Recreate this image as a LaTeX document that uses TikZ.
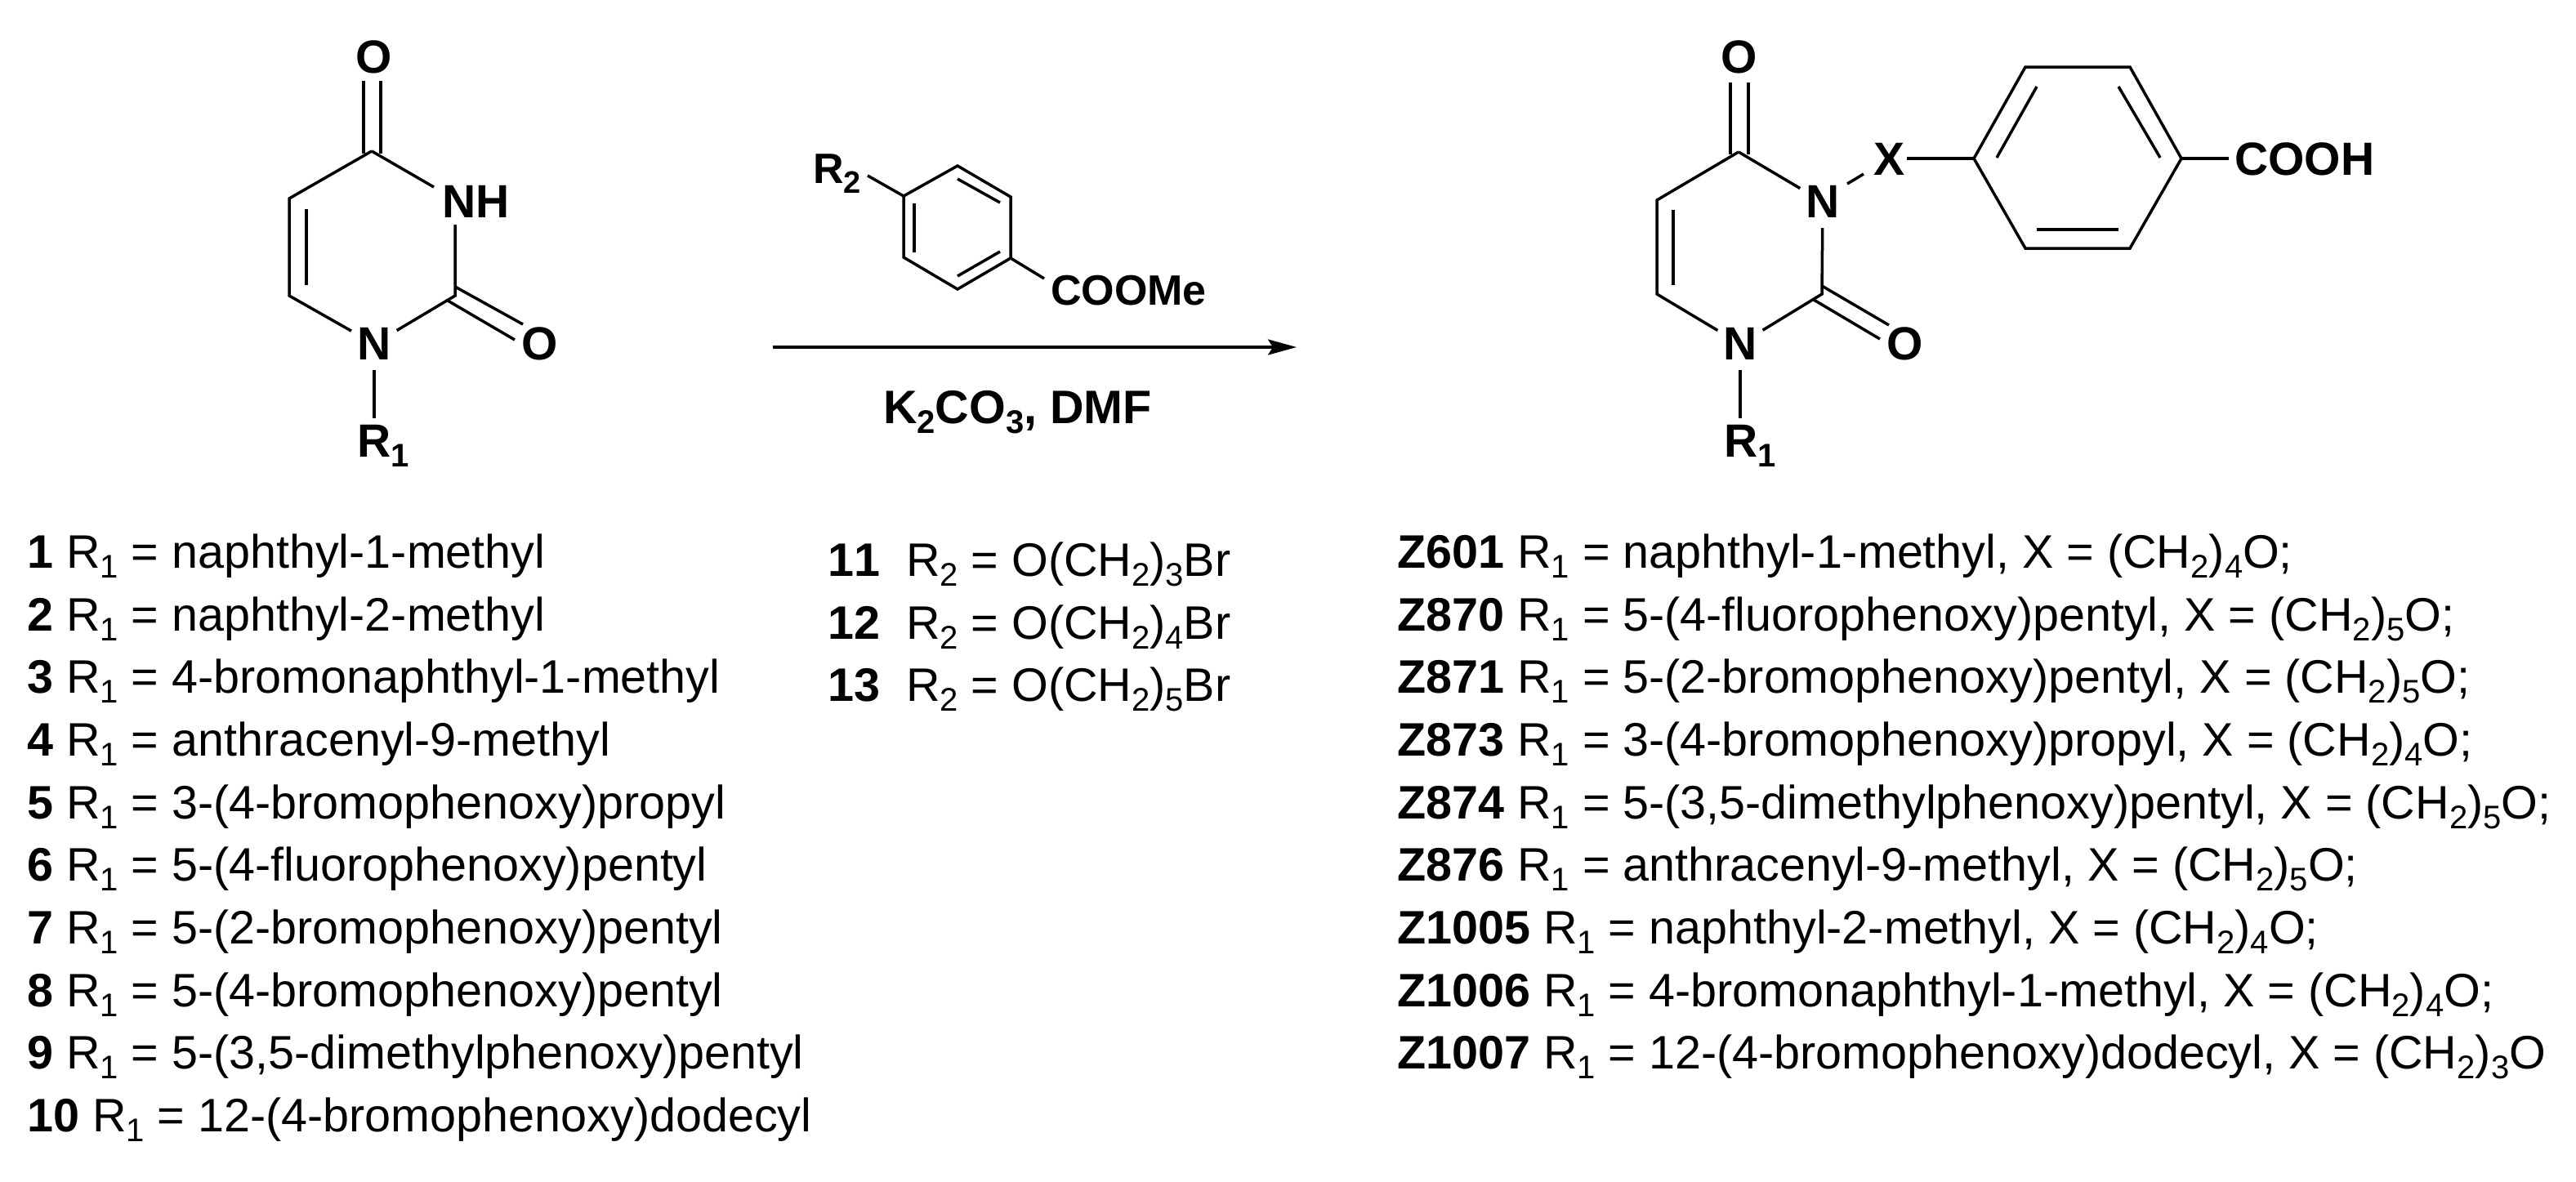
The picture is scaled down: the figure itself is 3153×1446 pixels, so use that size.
\documentclass[tikz,border=0pt]{standalone}
\usepackage{fontspec}
\usetikzlibrary{arrows.meta}
\setmainfont[Kerning=Off]{Liberation Sans}
\newcommand{\chemfont}{\fontsize{57}{66}\selectfont\bfseries}
\newcommand{\condfont}{\fontsize{57.5}{66}\selectfont\bfseries}
\newcommand{\reagentfont}{\fontsize{52}{60}\selectfont\bfseries}
\newcommand{\listfont}{\fontsize{57.5}{66}\selectfont}
\newcommand{\subnum}[1]{\raisebox{-12pt}{\fontsize{40}{44}\selectfont #1}}
\newcommand{\chemsub}[1]{\raisebox{-12pt}{\fontsize{40}{44}\selectfont\bfseries #1}}
\newcommand{\reagentsub}[1]{\raisebox{-12pt}{\fontsize{38}{42}\selectfont\bfseries #1}}
\tikzset{
  bond/.style={line width=3.5pt,line cap=butt,line join=miter},
  atom/.style={circle,minimum size=64pt,inner sep=0pt,font=\chemfont},
  chemlabel/.style={inner sep=0pt,font=\chemfont},
  condlabel/.style={inner sep=0pt,font=\condfont},
  reagentlabel/.style={inner sep=0pt,font=\reagentfont},
  listrow/.style={anchor=base west,inner sep=0pt,font=\listfont},
  rxnarrow/.style={line width=3.4pt,-{Stealth[length=35pt,width=19pt,inset=6pt]}}
}
\begin{document}
\begin{tikzpicture}[x=1pt,y=-1pt]
\useasboundingbox (0,0) rectangle (3153,1446);
% left uracil
\node[atom] (ao4) at (458,70) {O};
\coordinate (ac4) at (455,185);
\coordinate (ac5) at (354,243);
\coordinate (ac6) at (354,362);
\node[atom] (an1) at (458,421) {N};
\coordinate (ac2) at (557,362);
\node[chemlabel,anchor=base west] (anh) at (541,266) {NH};
\node[atom] (ao2) at (661,421) {O};
\node[chemlabel,anchor=base west,outer ysep=8pt] (ar1) at (437,559) {R\chemsub{1}};
\coordinate (ad1) at (445,99); \coordinate (ad2) at (445,188);
\coordinate (ad3) at (466,99); \coordinate (ad4) at (466,188);
\coordinate (ai1) at (375,256); \coordinate (ai2) at (375,349);
\coordinate (ad5) at (557,351); \coordinate (ad6) at (640,397);
\coordinate (ad7) at (548,368); \coordinate (ad8) at (630,416);
\coordinate (anh1) at (531,229); \coordinate (anh2) at (557,275);
\draw[bond] (ac4) -- (ac5) -- (ac6) -- (an1);
\draw[bond] (an1) -- (ac2) -- (anh2);
\draw[bond] (ac4) -- (anh1);
\draw[bond] (ai1) -- (ai2);
\draw[bond] (ad1) -- (ad2);
\draw[bond] (ad3) -- (ad4);
\draw[bond] (ad5) -- (ad6);
\draw[bond] (ad7) -- (ad8);
\draw[bond] (an1.south) -- (an1.south |- ar1.north);
% reagent
\node[reagentlabel,anchor=base west] (br2) at (995,224) {R\reagentsub{2}};
\node[reagentlabel,anchor=base west] (bcoome) at (1286,373) {COOMe};
\coordinate (b1) at (1172,203);
\coordinate (b2) at (1237,241);
\coordinate (b3) at (1237,316);
\coordinate (b4) at (1172,354);
\coordinate (b5) at (1106,315);
\coordinate (b6) at (1106,240);
\coordinate (bi1) at (1172,219); \coordinate (bi2) at (1224,248);
\coordinate (bi3) at (1119,249); \coordinate (bi4) at (1119,309);
\coordinate (bi5) at (1172,338); \coordinate (bi6) at (1224,308);
\coordinate (brb) at (1062,215); \coordinate (bcb) at (1278,341);
\draw[bond] (b1) -- (b2) -- (b3) -- (b4) -- (b5) -- (b6) -- cycle;
\draw[bond] (bi1) -- (bi2);
\draw[bond] (bi3) -- (bi4);
\draw[bond] (bi5) -- (bi6);
\draw[bond] (brb) -- (b6);
\draw[bond] (b3) -- (bcb);
% arrow
\coordinate (arrs) at (946,425);
\coordinate (arre) at (1587,425);
\draw[rxnarrow] (arrs) -- (arre);
\node[condlabel,anchor=base west] (cond) at (1081,518) {K\chemsub{2}CO\chemsub{3}, DMF};
% product
\node[atom] (po4) at (2129,70) {O};
\coordinate (pc4) at (2128,186);
\coordinate (pc5) at (2028,245);
\coordinate (pc6) at (2028,360);
\node[atom] (pn1) at (2130,421) {N};
\coordinate (pc2) at (2230,360);
\node[atom] (pn3) at (2231,247) {N};
\node[atom] (po2) at (2332,421) {O};
\node[chemlabel] (px) at (2312,195) {X};
\node[chemlabel,anchor=base west,outer ysep=8pt] (pr1) at (2110,559) {R\chemsub{1}};
\node[chemlabel,anchor=base west] (pcooh) at (2735,214) {COOH};
\coordinate (pd1) at (2118,101); \coordinate (pd2) at (2118,189);
\coordinate (pd3) at (2140,101); \coordinate (pd4) at (2140,189);
\coordinate (pi1) at (2048,257); \coordinate (pi2) at (2048,349);
\coordinate (pd5) at (2230,350); \coordinate (pd6) at (2312,398);
\coordinate (pd7) at (2220,367); \coordinate (pd8) at (2301,415);
\coordinate (pxa) at (2261,225); \coordinate (pxb) at (2281,213);
\coordinate (pxc) at (2334,194); \coordinate (pcb) at (2728,194);
\coordinate (r1) at (2416,194);
\coordinate (r2) at (2479,82);
\coordinate (r3) at (2607,82);
\coordinate (r4) at (2670,194);
\coordinate (r5) at (2607,304);
\coordinate (r6) at (2479,304);
\coordinate (ri1) at (2493,106); \coordinate (ri2) at (2444,193);
\coordinate (ri3) at (2593,106); \coordinate (ri4) at (2644,193);
\coordinate (ri5) at (2493,281); \coordinate (ri6) at (2593,281);
\draw[bond] (pc4) -- (pc5) -- (pc6) -- (pn1);
\draw[bond] (pn1) -- (pc2) -- (pn3);
\draw[bond] (pc4) -- (pn3);
\draw[bond] (pi1) -- (pi2);
\draw[bond] (pd1) -- (pd2);
\draw[bond] (pd3) -- (pd4);
\draw[bond] (pd5) -- (pd6);
\draw[bond] (pd7) -- (pd8);
\draw[bond] (pn1.south) -- (pn1.south |- pr1.north);
\draw[bond] (pxa) -- (pxb);
\draw[bond] (pxc) -- (r1);
\draw[bond] (r4) -- (pcb);
\draw[bond] (r1) -- (r2) -- (r3) -- (r4) -- (r5) -- (r6) -- cycle;
\draw[bond] (ri1) -- (ri2);
\draw[bond] (ri3) -- (ri4);
\draw[bond] (ri5) -- (ri6);
% list 1
\node[listrow] (l1) at (33,695) {\textbf{1} R\subnum{1} = naphthyl-1-methyl};
\node[listrow] (l2) at (33,772) {\textbf{2} R\subnum{1} = naphthyl-2-methyl};
\node[listrow] (l3) at (33,848) {\textbf{3} R\subnum{1} = 4-bromonaphthyl-1-methyl};
\node[listrow] (l4) at (33,925) {\textbf{4} R\subnum{1} = anthracenyl-9-methyl};
\node[listrow] (l5) at (33,1002) {\textbf{5} R\subnum{1} = 3-(4-bromophenoxy)propyl};
\node[listrow] (l6) at (33,1078) {\textbf{6} R\subnum{1} = 5-(4-fluorophenoxy)pentyl};
\node[listrow] (l7) at (33,1155) {\textbf{7} R\subnum{1} = 5-(2-bromophenoxy)pentyl};
\node[listrow] (l8) at (33,1232) {\textbf{8} R\subnum{1} = 5-(4-bromophenoxy)pentyl};
\node[listrow] (l9) at (33,1308) {\textbf{9} R\subnum{1} = 5-(3,5-dimethylphenoxy)pentyl};
\node[listrow] (l10) at (33,1385) {\textbf{10} R\subnum{1} = 12-(4-bromophenoxy)dodecyl};
% list 2
\node[listrow] (m1) at (1013,705) {\textbf{11}\ \ R\subnum{2} = O(CH\subnum{2})\subnum{3}Br};
\node[listrow] (m2) at (1013,782) {\textbf{12}\ \ R\subnum{2} = O(CH\subnum{2})\subnum{4}Br};
\node[listrow] (m3) at (1013,858) {\textbf{13}\ \ R\subnum{2} = O(CH\subnum{2})\subnum{5}Br};
% list 3
\node[listrow] (z1) at (1710,695) {\textbf{Z601} R\subnum{1} = naphthyl-1-methyl, X = (CH\subnum{2})\subnum{4}O;};
\node[listrow] (z2) at (1710,772) {\textbf{Z870} R\subnum{1} = 5-(4-fluorophenoxy)pentyl, X = (CH\subnum{2})\subnum{5}O;};
\node[listrow] (z3) at (1710,848) {\textbf{Z871} R\subnum{1} = 5-(2-bromophenoxy)pentyl, X = (CH\subnum{2})\subnum{5}O;};
\node[listrow] (z4) at (1710,925) {\textbf{Z873} R\subnum{1} = 3-(4-bromophenoxy)propyl, X = (CH\subnum{2})\subnum{4}O;};
\node[listrow] (z5) at (1710,1002) {\textbf{Z874} R\subnum{1} = 5-(3,5-dimethylphenoxy)pentyl, X = (CH\subnum{2})\subnum{5}O;};
\node[listrow] (z6) at (1710,1078) {\textbf{Z876} R\subnum{1} = anthracenyl-9-methyl, X = (CH\subnum{2})\subnum{5}O;};
\node[listrow] (z7) at (1710,1155) {\textbf{Z1005} R\subnum{1} = naphthyl-2-methyl, X = (CH\subnum{2})\subnum{4}O;};
\node[listrow] (z8) at (1710,1232) {\textbf{Z1006} R\subnum{1} = 4-bromonaphthyl-1-methyl, X = (CH\subnum{2})\subnum{4}O;};
\node[listrow] (z9) at (1710,1308) {\textbf{Z1007} R\subnum{1} = 12-(4-bromophenoxy)dodecyl, X = (CH\subnum{2})\subnum{3}O};
\end{tikzpicture}
\end{document}
